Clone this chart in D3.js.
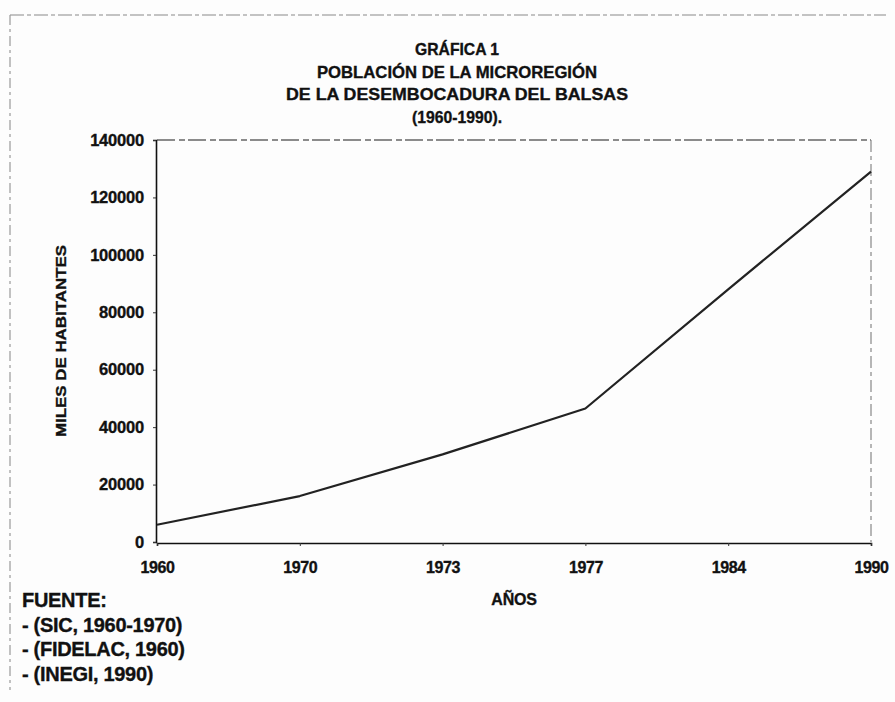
<!DOCTYPE html>
<html>
<head>
<meta charset="utf-8">
<script src="https://cdn.jsdelivr.net/npm/d3@7/dist/d3.min.js"></script>
<style>
  html, body { margin: 0; padding: 0; background: #fdfdfd; }
  svg { display: block; }
  text { font-family: "Liberation Sans", Arial, sans-serif; font-weight: bold; fill: #111; stroke: #111; stroke-width: 0.35px; }
</style>
</head>
<body>
<script>
// Population of the Balsas river mouth micro-region, 1960-1990
const years = ["1960", "1970", "1973", "1977", "1984", "1990"];
const population = [6000, 16000, 30500, 46500, 88000, 129000];
const yTicks = [0, 20000, 40000, 60000, 80000, 100000, 120000, 140000];
const titleLines = ["GRÁFICA 1", "POBLACIÓN DE LA MICROREGIÓN", "DE LA DESEMBOCADURA DEL BALSAS", "(1960-1990)."];
const sourceLines = ["FUENTE:", "- (SIC, 1960-1970)", "- (FIDELAC, 1960)", "- (INEGI, 1990)"];

const W = 895, H = 702;
const plot = { left: 157, right: 871, top: 140, bottom: 542 };

const svg = d3.select("body").append("svg").attr("width", W).attr("height", H);

// outer page frame (top and left edges)
svg.append("line").attr("x1", 10).attr("x2", 886).attr("y1", 15).attr("y2", 15)
  .attr("stroke", "#8a8a8a").attr("stroke-width", 1.2).attr("stroke-dasharray", "14 3 4 3");
svg.append("line").attr("x1", 10).attr("x2", 10).attr("y1", 15).attr("y2", 690)
  .attr("stroke", "#9a9a9a").attr("stroke-width", 1.2).attr("stroke-dasharray", "10 4 3 4");

const x = d3.scalePoint().domain(years).range([plot.left, plot.right]);
const y = d3.scaleLinear().domain([0, 140000]).range([plot.bottom, plot.top]);

// title, each line fitted to its printed width
const titleWidths = [84, 280, 342, 90];
svg.append("g").selectAll("text").data(titleLines).join("text")
  .attr("x", 457).attr("y", (d, i) => 49 + i * 22.5)
  .attr("text-anchor", "middle").attr("dominant-baseline", "central")
  .attr("font-size", 16.5)
  .attr("textLength", (d, i) => titleWidths[i]).attr("lengthAdjust", "spacingAndGlyphs")
  .text(d => d);

// plot area frame (top and right)
svg.append("line").attr("x1", plot.left).attr("x2", plot.right).attr("y1", plot.top).attr("y2", plot.top)
  .attr("stroke", "#666").attr("stroke-width", 1.3).attr("stroke-dasharray", "18 4 6 3");
svg.append("line").attr("x1", plot.right).attr("x2", plot.right).attr("y1", plot.top).attr("y2", plot.bottom)
  .attr("stroke", "#888").attr("stroke-width", 1.2).attr("stroke-dasharray", "12 4 4 4");

// y axis
const yAxis = svg.append("g").attr("transform", `translate(${plot.left - 1},0)`)
  .call(d3.axisLeft(y).tickValues(yTicks).tickSize(3).tickPadding(9).tickFormat(d3.format("d")));
yAxis.select(".domain").attr("stroke", "#111").attr("stroke-width", 1.6);
yAxis.selectAll(".tick line").attr("stroke", "#333");
yAxis.selectAll(".tick text").attr("font-size", 16.5).attr("font-family", "Liberation Sans, Arial, sans-serif")
  .attr("font-weight", "bold").attr("fill", "#111").attr("letter-spacing", -0.2);

// x axis
const xAxis = svg.append("g").attr("transform", `translate(0,${plot.bottom + 1})`)
  .call(d3.axisBottom(x).tickSize(3).tickPadding(16));
xAxis.select(".domain").attr("stroke", "#111").attr("stroke-width", 1.6);
xAxis.selectAll(".tick line").attr("stroke", "#333");
xAxis.selectAll(".tick text").attr("font-size", 16).attr("font-family", "Liberation Sans, Arial, sans-serif")
  .attr("font-weight", "bold").attr("fill", "#111").attr("letter-spacing", -0.4);

// axis titles
svg.append("text")
  .attr("transform", `translate(61,${(plot.top + plot.bottom) / 2}) rotate(-90)`)
  .attr("text-anchor", "middle").attr("dominant-baseline", "central")
  .attr("font-size", 14).attr("textLength", 192).attr("lengthAdjust", "spacingAndGlyphs")
  .text("MILES DE HABITANTES");
svg.append("text")
  .attr("x", (plot.left + plot.right) / 2).attr("y", 599)
  .attr("text-anchor", "middle").attr("dominant-baseline", "central")
  .attr("font-size", 16).attr("letter-spacing", -0.2)
  .text("AÑOS");

// population line
const line = d3.line().x((d, i) => x(years[i])).y(d => y(d));
svg.append("path").datum(population)
  .attr("d", line)
  .attr("fill", "none").attr("stroke", "#222").attr("stroke-width", 2.2)
  .attr("stroke-linejoin", "round");

// sources
svg.append("g").selectAll("text").data(sourceLines).join("text")
  .attr("x", 22).attr("y", (d, i) => 600 + i * 24.5)
  .attr("dominant-baseline", "central")
  .attr("font-size", 20).attr("letter-spacing", -0.3)
  .text(d => d);
</script>
</body>
</html>
